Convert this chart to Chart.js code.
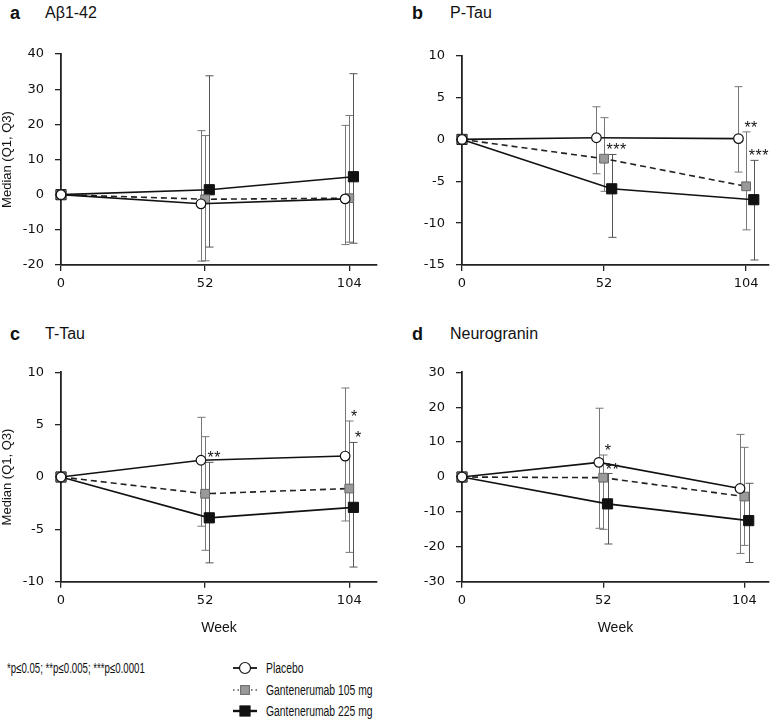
<!DOCTYPE html>
<html>
<head>
<meta charset="utf-8">
<script src="https://cdn.jsdelivr.net/npm/chart.js@4.4.1/dist/chart.umd.min.js"></script>
<style>
    body { margin: 0; background: #fff; width: 777px; height: 720px; position: relative; overflow: hidden;
           font-family: "Liberation Sans", Arial, sans-serif; color: #111; }
    canvas.panel { position: absolute; }
    .ttl { position: absolute; font-size: 16px; line-height: 20px; white-space: nowrap; }
    .ttl b { font-size: 18px; position: absolute; left: 0; }
    .ttl span { position: absolute; white-space: nowrap; }
    .foot { position: absolute; left: 7px; top: 660px; font-size: 14px; line-height: 16px;
            transform: scaleX(0.69); transform-origin: left center; white-space: nowrap; }
    .leg { position: absolute; left: 231px; height: 16px; }
    .leg canvas { position: absolute; left: 0; top: 0; }
    .leg span { position: absolute; left: 35px; top: 0; font-size: 14px; line-height: 16px; white-space: nowrap;
                transform: scaleX(0.74); transform-origin: left center; }
</style>
</head>
<body>
<div class="ttl" style="left:10px;top:3px"><b>a</b><span style="left:35px">Aβ1-42</span></div>
<div class="ttl" style="left:412px;top:3px"><b>b</b><span style="left:38px">P-Tau</span></div>
<div class="ttl" style="left:10px;top:324px"><b>c</b><span style="left:35px">T-Tau</span></div>
<div class="ttl" style="left:412px;top:324px"><b>d</b><span style="left:38px">Neurogranin</span></div>

<canvas class="panel" id="panel-a" width="390" height="290" style="left:0;top:30px"></canvas>
<canvas class="panel" id="panel-b" width="387" height="290" style="left:390px;top:30px"></canvas>
<canvas class="panel" id="panel-c" width="390" height="320" style="left:0;top:320px"></canvas>
<canvas class="panel" id="panel-d" width="387" height="320" style="left:390px;top:320px"></canvas>

<div class="foot">*p≤0.05; **p≤0.005; ***p≤0.0001</div>
<div id="legend"></div>

<script>
// weeks and treatment groups (placebo, 105 mg, 225 mg)
const weeks = [0, 52, 104];
const seriesNames = ['Placebo', 'Gantenerumab 105 mg', 'Gantenerumab 225 mg'];

// Aβ1-42: median, Q1, Q3 per group
const abMed = [[0, -2.6, -1.2], [0, -1.3, -1.0], [0, 1.4, 5.1]];
const abQ1 = [[0, -18.9, -14.2], [0, -18.8, -13.5], [0, -14.9, -13.8]];
const abQ3 = [[0, 18.2, 19.7], [0, 16.8, 22.5], [0, 33.8, 34.4]];

// P-Tau
const ptMed = [[0, 0.2, 0.1], [0, -2.3, -5.6], [0, -5.9, -7.2]];
const ptQ1 = [[0, -4.1, -3.9], [0, -6.2, -10.8], [0, -11.7, -14.4]];
const ptQ3 = [[0, 3.9, 6.3], [0, 2.6, 0.9], [0, -1.8, -2.5]];

// T-Tau
const ttMed = [[0, 1.6, 2.0], [0, -1.6, -1.1], [0, -3.9, -2.9]];
const ttQ1 = [[0, -4.7, -4.2], [0, -7.0, -7.2], [0, -8.2, -8.6]];
const ttQ3 = [[0, 5.7, 8.5], [0, 3.85, 5.35], [0, 1.4, 3.3]];

// Neurogranin
const ngMed = [[0, 4.2, -3.3], [0, -0.2, -5.6], [0, -7.7, -12.5]];
const ngQ1 = [[0, -14.7, -21.9], [0, -15.0, -19.6], [0, -19.2, -24.5]];
const ngQ3 = [[0, 19.7, 12.2], [0, 6.3, 8.5], [0, 1.0, -1.8]];

// significance marks: [group, week index, text]
const ptStars = [[2, 1, '***'], [1, 2, '**'], [2, 2, '***']];
const ttStars = [[2, 1, '**'], [1, 2, '*'], [2, 2, '*']];
const ngStars = [[1, 1, '*'], [2, 1, '**']];

const seriesStyle = [
    { borderColor: '#111', borderWidth: 1.6, pointStyle: 'circle', pointRadius: 4.8,
      pointBackgroundColor: '#fff', pointBorderColor: '#111', pointBorderWidth: 1.2, barColor: '#777' },
    { borderColor: '#222', borderWidth: 1.6, borderDash: [6, 4], pointStyle: 'rect', pointRadius: 6.2,
      pointBackgroundColor: '#9a9a9a', pointBorderColor: '#666', pointBorderWidth: 1, barColor: '#777' },
    { borderColor: '#111', borderWidth: 1.6, pointStyle: 'rect', pointRadius: 7.2,
      pointBackgroundColor: '#111', pointBorderColor: '#111', pointBorderWidth: 1, barColor: '#555' }
];

const TEXT = '#111';
const AXIS = '#222';

function buildDatasets(med, q1, q3, dodge) {
    return med.map((vals, s) => {
        const st = seriesStyle[s];
        return {
            label: seriesNames[s],
            data: vals.map((v, i) => ({ x: weeks[i] === 0 ? 0 : weeks[i] + dodge * (s - 1), y: v })),
            q1: q1[s],
            q3: q3[s],
            barColor: st.barColor,
            borderColor: st.borderColor,
            borderWidth: st.borderWidth,
            borderDash: st.borderDash || [],
            pointStyle: st.pointStyle,
            pointRadius: st.pointRadius,
            pointBackgroundColor: st.pointBackgroundColor,
            pointBorderColor: st.pointBorderColor,
            pointBorderWidth: st.pointBorderWidth,
            tension: 0,
            fill: false,
            clip: false
        };
    });
}

const errorBars = {
    id: 'errorBars',
    beforeDatasetsDraw(chart) {
        const { ctx } = chart;
        const y = chart.scales.y;
        ctx.save();
        chart.data.datasets.forEach((ds, di) => {
            const meta = chart.getDatasetMeta(di);
            ctx.strokeStyle = ds.barColor;
            ctx.lineWidth = 1;
            meta.data.forEach((pt, i) => {
                if (ds.q1[i] === ds.q3[i]) return;
                const x = Math.round(pt.x) + 0.5;
                const top = y.getPixelForValue(ds.q3[i]);
                const bot = y.getPixelForValue(ds.q1[i]);
                ctx.beginPath();
                ctx.moveTo(x, top); ctx.lineTo(x, bot);
                ctx.moveTo(x - 4, top); ctx.lineTo(x + 4, top);
                ctx.moveTo(x - 4, bot); ctx.lineTo(x + 4, bot);
                ctx.stroke();
            });
        });
        ctx.restore();
    }
};

function starsPlugin(marks) {
    return {
        id: 'stars',
        afterDatasetsDraw(chart) {
            const { ctx } = chart;
            ctx.save();
            ctx.font = '16px "Liberation Sans", Arial, sans-serif';
            ctx.fillStyle = TEXT;
            ctx.textAlign = 'center';
            ctx.textBaseline = 'alphabetic';
            if ('letterSpacing' in ctx) ctx.letterSpacing = '0.5px';
            marks.forEach(([s, i, txt]) => {
                const ds = chart.data.datasets[s];
                const pt = chart.getDatasetMeta(s).data[i];
                const top = chart.scales.y.getPixelForValue(ds.q3[i]);
                ctx.fillText(txt, pt.x + 5, top + 1);
            });
            ctx.restore();
        }
    };
}

function makePanel(id, opts) {
    const { med, q1, q3, dodge, yMin, yMax, step, xMax, pad, yW, xH, yTitle, xTitle, stars } = opts;
    return new Chart(document.getElementById(id), {
        type: 'line',
        data: { datasets: buildDatasets(med, q1, q3, dodge) },
        options: {
            responsive: false,
            animation: false,
            layout: { padding: pad },
            plugins: { legend: { display: false }, tooltip: { enabled: false } },
            scales: {
                x: {
                    type: 'linear',
                    min: 0,
                    max: xMax,
                    afterBuildTicks: s => { s.ticks = weeks.map(v => ({ value: v })); },
                    afterFit: s => { s.height = xH; },
                    grid: { drawOnChartArea: false, drawTicks: true, tickLength: 6, color: AXIS, lineWidth: 1.3 },
                    border: { display: true, color: AXIS, width: 1.8 },
                    ticks: { font: { family: 'DejaVu Sans', size: 13 }, color: TEXT, padding: 5, maxRotation: 0 },
                    title: { display: !!xTitle, text: xTitle || '', color: TEXT, padding: 0,
                             font: { family: 'Liberation Sans', size: 14 } }
                },
                y: {
                    min: yMin,
                    max: yMax,
                    afterFit: s => { s.width = yW; },
                    grid: { drawOnChartArea: false, drawTicks: true, tickLength: 6, color: AXIS, lineWidth: 1.3 },
                    border: { display: true, color: AXIS, width: 1.8 },
                    ticks: { stepSize: step, font: { family: 'DejaVu Sans', size: 13 }, color: TEXT, padding: 11 },
                    title: { display: !!yTitle, text: yTitle || '', color: TEXT, padding: 0,
                             font: { family: 'Liberation Sans', size: 13 } }
                }
            }
        },
        plugins: [errorBars, starsPlugin(stars || [])]
    });
}

makePanel('panel-a', {
    med: abMed, q1: abQ1, q3: abQ3, dodge: 1.5, yMin: -20, yMax: 40, step: 10, xMax: 114,
    pad: { left: 0, top: 24, right: 13, bottom: 10 }, yW: 61, xH: 45,
    yTitle: 'Median (Q1, Q3)'
});
makePanel('panel-b', {
    med: ptMed, q1: ptQ1, q3: ptQ3, dodge: 2.8, yMin: -15, yMax: 10, step: 5, xMax: 112.3,
    pad: { left: 0, top: 25.7, right: 4, bottom: 10 }, yW: 72, xH: 45,
    stars: ptStars
});
makePanel('panel-c', {
    med: ttMed, q1: ttQ1, q3: ttQ3, dodge: 1.5, yMin: -10, yMax: 10, step: 5, xMax: 114,
    pad: { left: 0, top: 52.3, right: 13, bottom: 3.6 }, yW: 61, xH: 54.7,
    yTitle: 'Median (Q1, Q3)', xTitle: 'Week', stars: ttStars
});
makePanel('panel-d', {
    med: ngMed, q1: ngQ1, q3: ngQ3, dodge: 1.6, yMin: -30, yMax: 30, step: 10, xMax: 113,
    pad: { left: 0, top: 52.3, right: 2, bottom: 3.6 }, yW: 72, xH: 54.7,
    xTitle: 'Week', stars: ngStars
});

// legend: line + marker symbol per group
const legendRows = [660, 682, 703];
const legendLines = [
    { color: '#111', width: 1.8, dash: [] },
    { color: '#555', width: 1.4, dash: [1.5, 3] },
    { color: '#111', width: 2.4, dash: [] }
];
const legend = document.getElementById('legend');
seriesNames.forEach((name, s) => {
    const row = document.createElement('div');
    row.className = 'leg';
    row.style.top = legendRows[s] + 'px';
    const cv = document.createElement('canvas');
    cv.width = 30; cv.height = 16;
    const ctx = cv.getContext('2d');
    const ln = legendLines[s];
    const st = seriesStyle[s];
    ctx.strokeStyle = ln.color;
    ctx.lineWidth = ln.width;
    ctx.setLineDash(ln.dash);
    ctx.beginPath(); ctx.moveTo(2, 8); ctx.lineTo(26, 8); ctx.stroke();
    ctx.setLineDash([]);
    ctx.fillStyle = st.pointBackgroundColor;
    ctx.strokeStyle = st.pointBorderColor;
    ctx.lineWidth = st.pointBorderWidth;
    if (st.pointStyle === 'circle') {
        ctx.beginPath(); ctx.arc(14, 8, 5.5, 0, Math.PI * 2); ctx.fill(); ctx.stroke();
    } else {
        const h = st.pointRadius * Math.SQRT1_2;
        ctx.fillRect(14 - h, 8 - h, 2 * h, 2 * h);
        ctx.strokeRect(14 - h, 8 - h, 2 * h, 2 * h);
    }
    row.appendChild(cv);
    const label = document.createElement('span');
    label.textContent = name;
    row.appendChild(label);
    legend.appendChild(row);
});
</script>
</body>
</html>
